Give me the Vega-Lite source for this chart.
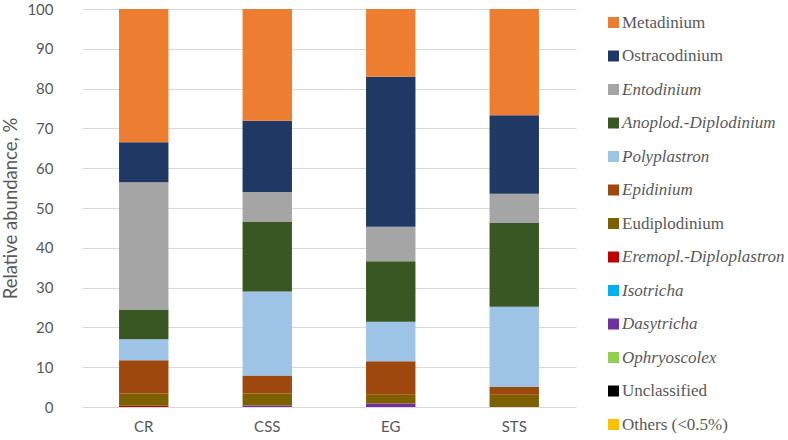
{
  "$schema": "https://vega.github.io/schema/vega-lite/v6.json",
  "width": 494,
  "height": 398,
  "autosize": {"type": "none"},
  "padding": {"left": 82, "top": 9, "right": 212, "bottom": 33},
  "background": "white",
  "config": {"view": {"stroke": null}, "font": "Lato"},
  "data": {
    "values": [
      {"site": "CR", "genus": "Eremopl.-Diploplastron", "k": 6, "value": 0.3},
      {"site": "CR", "genus": "Eudiplodinium", "k": 7, "value": 3.1},
      {"site": "CR", "genus": "Epidinium", "k": 8, "value": 8.35},
      {"site": "CR", "genus": "Polyplastron", "k": 9, "value": 5.25},
      {"site": "CR", "genus": "Anoplod.-Diplodinium", "k": 10, "value": 7.5},
      {"site": "CR", "genus": "Entodinium", "k": 11, "value": 32.0},
      {"site": "CR", "genus": "Ostracodinium", "k": 12, "value": 10.0},
      {"site": "CR", "genus": "Metadinium", "k": 13, "value": 33.5},
      {"site": "CSS", "genus": "Dasytricha", "k": 4, "value": 0.4},
      {"site": "CSS", "genus": "Eudiplodinium", "k": 7, "value": 3.0},
      {"site": "CSS", "genus": "Epidinium", "k": 8, "value": 4.5},
      {"site": "CSS", "genus": "Polyplastron", "k": 9, "value": 21.1},
      {"site": "CSS", "genus": "Anoplod.-Diplodinium", "k": 10, "value": 17.5},
      {"site": "CSS", "genus": "Entodinium", "k": 11, "value": 7.5},
      {"site": "CSS", "genus": "Ostracodinium", "k": 12, "value": 17.9},
      {"site": "CSS", "genus": "Metadinium", "k": 13, "value": 28.1},
      {"site": "EG", "genus": "Dasytricha", "k": 4, "value": 0.9},
      {"site": "EG", "genus": "Eudiplodinium", "k": 7, "value": 2.2},
      {"site": "EG", "genus": "Epidinium", "k": 8, "value": 8.4},
      {"site": "EG", "genus": "Polyplastron", "k": 9, "value": 9.9},
      {"site": "EG", "genus": "Anoplod.-Diplodinium", "k": 10, "value": 15.2},
      {"site": "EG", "genus": "Entodinium", "k": 11, "value": 8.7},
      {"site": "EG", "genus": "Ostracodinium", "k": 12, "value": 37.7},
      {"site": "EG", "genus": "Metadinium", "k": 13, "value": 17.0},
      {"site": "STS", "genus": "Eudiplodinium", "k": 7, "value": 3.1},
      {"site": "STS", "genus": "Epidinium", "k": 8, "value": 1.9},
      {"site": "STS", "genus": "Polyplastron", "k": 9, "value": 20.2},
      {"site": "STS", "genus": "Anoplod.-Diplodinium", "k": 10, "value": 21.0},
      {"site": "STS", "genus": "Entodinium", "k": 11, "value": 7.4},
      {"site": "STS", "genus": "Ostracodinium", "k": 12, "value": 19.7},
      {"site": "STS", "genus": "Metadinium", "k": 13, "value": 26.7}
    ]
  },
  "mark": {"type": "bar"},
  "encoding": {
    "x": {
      "field": "site",
      "type": "nominal",
      "sort": ["CR", "CSS", "EG", "STS"],
      "scale": {"paddingInner": 0.6, "paddingOuter": 0.3},
      "axis": {
        "title": null,
        "labelAngle": 0,
        "labelFont": "Lato",
        "labelFontSize": 15,
        "labelColor": "#595959",
        "ticks": false,
        "domain": false,
        "labelPadding": 12
      }
    },
    "y": {
      "field": "value",
      "type": "quantitative",
      "stack": "zero",
      "scale": {"domain": [0, 100], "nice": false},
      "axis": {
        "values": [0, 10, 20, 30, 40, 50, 60, 70, 80, 90, 100],
        "title": "Relative abundance, %",
        "titleFont": "Lato",
        "titleFontSize": 18.5,
        "titleFontWeight": "normal",
        "titleColor": "#595959",
        "titlePadding": 6,
        "labelFont": "Lato",
        "labelFontSize": 15,
        "labelColor": "#595959",
        "labelPadding": 29,
        "grid": true,
        "gridColor": "#d9d9d9",
        "gridWidth": 1,
        "domain": false,
        "ticks": false
      }
    },
    "color": {
      "field": "genus",
      "type": "nominal",
      "scale": {
        "domain": ["Metadinium", "Ostracodinium", "Entodinium", "Anoplod.-Diplodinium", "Polyplastron", "Epidinium", "Eudiplodinium", "Eremopl.-Diploplastron", "Isotricha", "Dasytricha", "Ophryoscolex", "Unclassified", "Others (<0.5%)"],
        "range": ["#ED7D31", "#203864", "#A5A5A5", "#385723", "#9DC3E6", "#9E480E", "#7F6000", "#C00000", "#00B0F0", "#7030A0", "#92D050", "#000000", "#FFC000"]
      },
      "legend": {
        "title": null,
        "orient": "none",
        "legendX": 523,
        "legendY": 5,
        "symbolType": "square",
        "symbolSize": 121,
        "symbolStrokeWidth": 0,
        "labelFont": "Liberation Serif",
        "labelFontSize": 17,
        "labelColor": "#595959",
        "labelOffset": 0,
        "labelLimit": 300,
        "rowPadding": 15.5,
        "encode": {
          "labels": {
            "update": {
              "fontStyle": {"signal": "indexof(['Metadinium','Ostracodinium','Eudiplodinium','Unclassified','Others (<0.5%)'], datum.value) >= 0 ? 'normal' : 'italic'"}
            }
          }
        }
      }
    },
    "order": {"field": "k", "type": "quantitative"}
  }
}
